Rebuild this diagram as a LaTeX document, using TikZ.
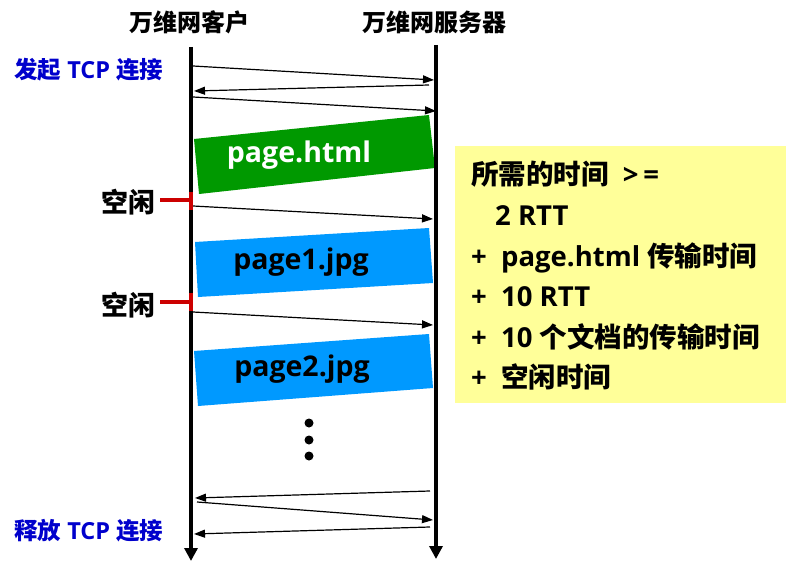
\documentclass[tikz,border=0pt]{standalone}
\usepackage{fontspec}
\setmainfont{Open Sans}[BoldFont={* Bold}]
\newfontfamily\cjk{Noto Sans CJK SC Bold}
\usetikzlibrary{arrows.meta}
\definecolor{pgreen}{HTML}{009900}
\definecolor{pblue}{HTML}{0099FF}
\definecolor{tcpblue}{HTML}{0000CC}
\definecolor{idlered}{HTML}{CC0000}
\definecolor{noteyellow}{HTML}{FFFF99}
\tikzset{
  msg/.style={line width=1.2pt,-{Triangle[length=11pt,width=8pt]}},
  life/.style={line width=3.5pt,-{Triangle[length=13pt,width=13pt]}},
  idle/.style={idlered,line width=4pt},
  hdr/.style={font=\bfseries\fontsize{24}{26}\selectfont\cjk,inner sep=0pt},
  tcp/.style={font=\bfseries\fontsize{23.5}{26}\selectfont,text=tcpblue,inner sep=0pt,anchor=west},
  idletxt/.style={font=\bfseries\fontsize{27}{30}\selectfont\cjk,inner sep=0pt,anchor=east},
  pagetxt/.style={font=\bfseries\fontsize{28.5}{30}\selectfont,inner sep=0pt},
  notetxt/.style={font=\bfseries\fontsize{27.5}{30}\selectfont,inner sep=0pt,anchor=base west},
  dot/.style={circle,fill=black,inner sep=0pt,minimum size=9pt}
}
\begin{document}
\begin{tikzpicture}[x=1pt,y=-1pt]
\useasboundingbox[fill=white] (0,0) rectangle (787,564);
% headers
\node[hdr] (hc) at (189,22) {万维网客户};
\node[hdr] (hs) at (434,22) {万维网服务器};
% lifelines
\coordinate (ct) at (191,47); \coordinate (cb) at (191,561);
\coordinate (st) at (436,45); \coordinate (sb) at (436,559);
% packets
\fill[pgreen] (194,139) -- (429,115) -- (435,168) -- (199,194) -- cycle;
\fill[pblue] (195,242) -- (429,228) -- (433,283) -- (198,297) -- cycle;
\fill[pblue] (194,351) -- (429,334) -- (433,388) -- (198,406) -- cycle;
\node[pagetxt,text=white] (p0) at (299,155) {page.html};
\node[pagetxt] (p1) at (301,262) {page1.jpg};
\node[pagetxt] (p2) at (302,369) {page2.jpg};
\draw[life] (ct) -- (cb);
\draw[life] (st) -- (sb);
% message endpoints
\coordinate (a1) at (193,66);  \coordinate (b1) at (434,80);
\coordinate (b2) at (429,85);  \coordinate (a2) at (194,91);
\coordinate (a3) at (193,97);  \coordinate (b3) at (436,111);
\coordinate (a4) at (193,206); \coordinate (b4) at (433,219);
\coordinate (a5) at (193,312); \coordinate (b5) at (433,325);
\coordinate (b6) at (430,491); \coordinate (a6) at (195,498);
\coordinate (a7) at (197,502); \coordinate (b7) at (433,520);
\coordinate (b8) at (430,527); \coordinate (a8) at (194,534);
\draw[msg] (a1) -- (b1);
\draw[msg] (b2) -- (a2);
\draw[msg] (a3) -- (b3);
\draw[msg] (a4) -- (b4);
\draw[msg] (a5) -- (b5);
\draw[msg] (b6) -- (a6);
\draw[msg] (a7) -- (b7);
\draw[msg] (b8) -- (a8);
% idle markers
\coordinate (i1a) at (160,200); \coordinate (i1b) at (191,200);
\coordinate (i1t) at (191,192); \coordinate (i1d) at (191,210);
\coordinate (i2a) at (160,302); \coordinate (i2b) at (191,302);
\coordinate (i2t) at (191,293); \coordinate (i2d) at (191,311);
\draw[idle] (i1a) -- (i1b);
\draw[idle] (i1t) -- (i1d);
\draw[idle] (i2a) -- (i2b);
\draw[idle] (i2t) -- (i2d);
\node[idletxt] (idle1) at (156,202) {空闲};
\node[idletxt] (idle2) at (156,305) {空闲};
% TCP labels
\node[tcp] (open) at (14,70) {{\cjk 发起}\ TCP\ {\cjk 连接}};
\node[tcp] (close) at (14,531) {{\cjk 释放}\ TCP\ {\cjk 连接}};
% dots
\node[dot] (d1) at (309,423) {};
\node[dot] (d2) at (309,440) {};
\node[dot] (d3) at (309,456) {};
% note
\fill[noteyellow] (455,146) rectangle (786,403);
\node[notetxt] (n1) at (471,185) {{\cjk 所需的时间}\ \ >\,=};
\node[notetxt] (n2) at (495,225.5) {2 RTT};
\node[notetxt] (n3) at (471,266) {+\ \ page.html {\cjk 传输时间}};
\node[notetxt] (n4) at (471,306.5) {+\ \ 10 RTT};
\node[notetxt] (n5) at (471,347) {+\ \ 10 {\cjk 个文档的传输时间}};
\node[notetxt] (n6) at (471,387.5) {+\ \ {\cjk 空闲时间}};
\end{tikzpicture}
\end{document}
